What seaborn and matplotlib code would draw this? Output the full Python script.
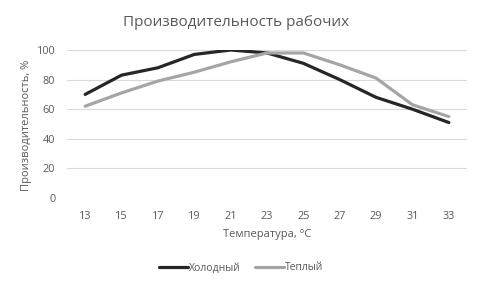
import pandas as pd
import matplotlib.pyplot as plt
import seaborn as sns

temps = [13, 15, 17, 19, 21, 23, 25, 27, 29, 31, 33]
cold = [70, 83, 88, 97, 100, 98, 91, 80, 68, 60, 51]
warm = [62, 71, 79, 85, 92, 98, 98, 90, 81, 63, 55]
series_names = ['Холодный', 'Теплый']

df = pd.DataFrame({
    'Температура': temps * 2,
    'Производительность': cold + warm,
    'Тип': [series_names[0]] * len(temps) + [series_names[1]] * len(temps),
})

sns.set_style('white')
plt.rcParams['font.family'] = ['Open Sans', 'DejaVu Sans']
txt = '#595959'
colors = ['#262626', '#A5A5A5']

fig = plt.figure(figsize=(4.82, 2.90), dpi=100)
ax = fig.add_axes([67 / 482, 1 - 198 / 290, 400 / 482, 148 / 290])

sns.lineplot(data=df, x='Температура', y='Производительность', hue='Тип',
             palette=colors, linewidth=2.3, ax=ax, legend=False)

ax.set_xlim(12, 34)
ax.set_ylim(0, 100)
ax.set_xticks(temps)
ax.set_yticks(range(0, 101, 20))
ax.grid(axis='y', color='#D9D9D9', linewidth=0.8)
ax.set_axisbelow(True)
for s in ax.spines.values():
    s.set_visible(False)
ax.tick_params(length=0, labelsize=7.8, colors=txt)
ax.tick_params(axis='x', pad=9.5)
ax.tick_params(axis='y', pad=8.5)

ax.set_xlabel('')
ax.set_ylabel('')
fig.text(267 / 482, 1 - 235 / 290, 'Температура, °С', ha='center', va='center',
         fontsize=8, color=txt)
fig.text(27 / 482, 1 - 125 / 290, 'Производительность, %', ha='center', va='center',
         rotation=90, fontsize=8, color=txt)
fig.text(236 / 482, 1 - 22 / 290, 'Производительность рабочих', ha='center', va='center',
         fontsize=11, color=txt)

handles = [plt.Line2D([], [], color=c, linewidth=2.3) for c in colors]
fig.legend(handles, series_names, loc='center', bbox_to_anchor=(241 / 482, 1 - 268 / 290),
           ncol=2, frameon=False, fontsize=7.5, labelcolor=txt, handlelength=2.8,
           handletextpad=0.1, columnspacing=1.4)

fig.savefig('out.png', dpi=100)
